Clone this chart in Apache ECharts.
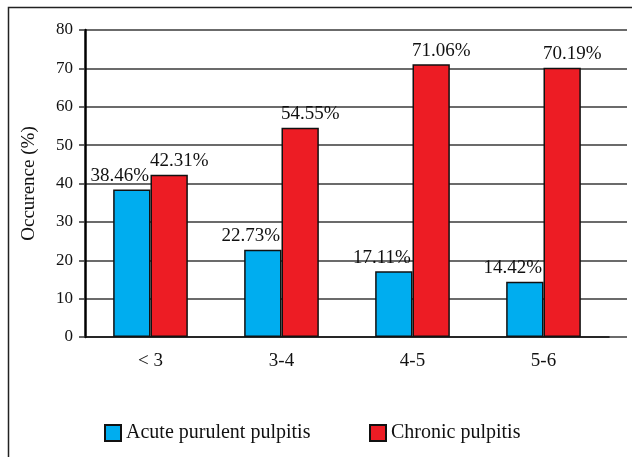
<!DOCTYPE html>
<html>
<head>
<meta charset="utf-8">
<script src="https://cdn.jsdelivr.net/npm/echarts@6/dist/echarts.min.js"></script>
<style>
  html, body { margin: 0; padding: 0; background: #fff; }
  #chart { width: 632px; height: 457px; }
</style>
</head>
<body>
<div id="chart"></div>
<script>
// Age groups (years) and occurrence percentages per pulpitis type
const categories = ['< 3', '3-4', '4-5', '5-6'];
const acuteValues = [38.46, 22.73, 17.11, 14.42];
const chronicValues = [42.31, 54.55, 71.06, 70.19];
const seriesNames = ['Acute purulent pulpitis', 'Chronic pulpitis'];
const yTicks = { min: 0, max: 80, interval: 10 };

const FONT = '"Liberation Serif", "DejaVu Serif", serif';
const INK = '#111';

const chart = echarts.init(document.getElementById('chart'), null, { renderer: 'canvas' });

const pctLabel = (dx) => ({
  show: true,
  position: 'top',
  distance: 4,
  offset: [dx, 0],
  formatter: (p) => p.value.toFixed(2) + '%',
  fontFamily: FONT,
  fontSize: 19,
  color: INK
});

const legendText = { fontFamily: FONT, fontSize: 20, color: INK };

chart.setOption({
  animation: false,
  backgroundColor: '#fff',
  grid: [
    // full-width frame carrying the horizontal rules
    { left: 85, right: 5, top: 30, bottom: 120 },
    // bar area
    { left: 85, right: 23, top: 30, bottom: 120 }
  ],
  xAxis: [
    { gridIndex: 0, type: 'value', min: 0, max: 1, show: false },
    {
      gridIndex: 1,
      type: 'category',
      data: categories,
      axisLine: { show: true, lineStyle: { color: INK, width: 1.5 } },
      axisTick: { show: false },
      axisLabel: { margin: 15, fontFamily: FONT, fontSize: 19, color: INK }
    }
  ],
  yAxis: [
    {
      gridIndex: 0,
      type: 'value',
      min: yTicks.min,
      max: yTicks.max,
      interval: yTicks.interval,
      name: 'Occurence (%)',
      nameLocation: 'middle',
      nameGap: 46,
      nameTextStyle: { fontFamily: FONT, fontSize: 19, color: INK },
      axisLine: { show: true, lineStyle: { color: '#000', width: 2.5 } },
      axisTick: { show: true, length: 6, lineStyle: { color: '#333', width: 1.5 } },
      axisLabel: { margin: 12, fontFamily: FONT, fontSize: 17, color: INK },
      splitLine: { show: true, lineStyle: { color: '#3a3a3a', width: 1.5 } }
    },
    { gridIndex: 1, type: 'value', min: yTicks.min, max: yTicks.max, show: false }
  ],
  legend: [
    {
      data: [{ name: seriesNames[0], icon: 'rect' }],
      left: 99, top: 418,
      itemWidth: 16, itemHeight: 16,
      itemGap: 10,
      textStyle: legendText
    },
    {
      data: [{ name: seriesNames[1], icon: 'rect' }],
      left: 364, top: 418,
      itemWidth: 16, itemHeight: 16,
      textStyle: legendText
    }
  ],
  series: [
    {
      name: seriesNames[0],
      type: 'bar',
      xAxisIndex: 1, yAxisIndex: 1,
      data: acuteValues,
      barGap: '0%',
      barCategoryGap: '43%',
      itemStyle: { color: '#00adef', borderColor: '#111', borderWidth: 1.5 },
      label: pctLabel(-12)
    },
    {
      name: seriesNames[1],
      type: 'bar',
      xAxisIndex: 1, yAxisIndex: 1,
      data: chronicValues,
      barGap: '0%',
      barCategoryGap: '43%',
      itemStyle: { color: '#ed1c24', borderColor: '#111', borderWidth: 1.5 },
      label: pctLabel(10)
    }
  ],
  graphic: [
    {
      type: 'rect',
      silent: true,
      shape: { x: 8.5, y: 7.5, width: 700, height: 500 },
      style: { fill: 'none', stroke: '#222', lineWidth: 1.5 }
    }
  ]
});
</script>
</body>
</html>
